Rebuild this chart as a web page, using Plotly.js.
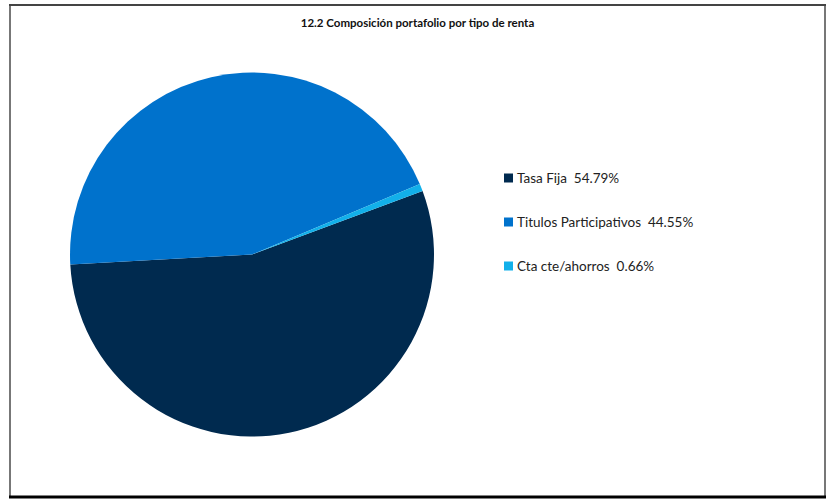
<!DOCTYPE html>
<html><head><meta charset="utf-8">
<script src="https://cdn.plot.ly/plotly-3.0.1.min.js"></script>
<style>html,body{margin:0;padding:0;background:#fff}#c{width:835px;height:502px}</style>
</head><body><div id="c"></div>
<script>
const categories = ["Tasa Fija", "Titulos Participativos", "Cta cte/ahorros"];
const values = [54.79, 44.55, 0.66];
const colors = ["#002a4f", "#0072cc", "#12b0ea"];
const titleText = "12.2 Composición portafolio por tipo de renta";

const W = 835, H = 502;
const px = v => v / W, py = v => 1 - v / H;

const legendY = [178, 222, 266];
const annotations = categories.map((c, i) => ({
  xref: "paper", yref: "paper", x: px(515), y: py(legendY[i]),
  xanchor: "left", yanchor: "middle", showarrow: false,
  text: `${c}  ${values[i].toFixed(2)}%`,
  font: {family: "Lato, 'Open Sans', sans-serif", size: 13.5, color: "#222"}
}));

const shapes = [
  {type: "line", xref: "paper", yref: "paper", x0: px(10), x1: px(10), y0: py(4), y1: py(497), line: {color: "#777", width: 2}},
  {type: "line", xref: "paper", yref: "paper", x0: px(825), x1: px(825), y0: py(4), y1: py(497), line: {color: "#777", width: 2}},
  {type: "line", xref: "paper", yref: "paper", x0: px(9), x1: px(826), y0: py(5), y1: py(5), line: {color: "#444", width: 2}},
  {type: "line", xref: "paper", yref: "paper", x0: px(9), x1: px(826), y0: py(497), y1: py(497), line: {color: "#000", width: 3}}
].concat(categories.map((c, i) => ({
  type: "rect", xref: "paper", yref: "paper",
  x0: px(504), x1: px(513), y0: py(legendY[i] - 4.5), y1: py(legendY[i] + 4.5),
  fillcolor: colors[i], line: {width: 0}
})));

const trace = {
  type: "pie", labels: categories, values: values, sort: false,
  direction: "clockwise", rotation: 69.6,
  marker: {colors: colors, line: {width: 0}},
  textinfo: "none", hoverinfo: "label+percent",
  domain: {x: [px(70), px(434)], y: [py(437), py(72)]}
};

Plotly.newPlot("c", [trace], {
  width: W, height: H, margin: {l: 0, r: 0, t: 0, b: 0},
  paper_bgcolor: "#fff", showlegend: false,
  title: {text: "<b>" + titleText + "</b>", x: 0.5, xanchor: "center", y: py(23), yanchor: "middle",
          font: {family: "Lato, 'Open Sans', sans-serif", size: 11.5, color: "#111"}},
  annotations: annotations, shapes: shapes
}, {staticPlot: true});
</script></body></html>
